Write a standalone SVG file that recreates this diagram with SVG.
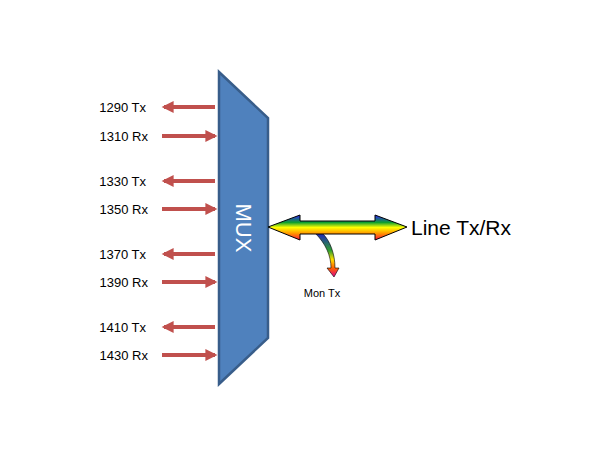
<svg xmlns="http://www.w3.org/2000/svg" width="610" height="450" viewBox="0 0 610 450">
<style>
.lbl{font-family:"Liberation Sans",Arial,sans-serif;font-size:13px;fill:#000}
.red{stroke:#c0504d;stroke-width:4;fill:none}
</style>
<defs>
<marker id="ah" viewBox="0 0 10 10" refX="8" refY="5" markerWidth="3.2" markerHeight="3" orient="auto" markerUnits="strokeWidth"><path d="M0,0L10,5L0,10z" fill="#c0504d"/></marker>
<linearGradient id="rb" x1="0" y1="0" x2="0" y2="1">
<stop offset="0" stop-color="#3020ff"/><stop offset="0.3" stop-color="#10a030"/><stop offset="0.5" stop-color="#ffff00"/><stop offset="0.75" stop-color="#ff9000"/><stop offset="1" stop-color="#ff1040"/>
</linearGradient>
<linearGradient id="rb2" x1="0" y1="0" x2="0" y2="1">
<stop offset="0" stop-color="#2020c0"/><stop offset="0.4" stop-color="#30a030"/><stop offset="0.6" stop-color="#ffe000"/><stop offset="0.8" stop-color="#ff6000"/><stop offset="1" stop-color="#e00090"/>
</linearGradient>
</defs>
<g id="mux">
<polygon points="219,72 268,118 268,338 219,384" fill="#4f81bd" stroke="#385d8a" stroke-width="2.5"/>
<text x="243" y="228" transform="rotate(90 243 228)" text-anchor="middle" dominant-baseline="central" font-family="Liberation Sans,Arial,sans-serif" font-size="22" fill="#fff">MUX</text>
</g>
<g id="connectors">
<line class="red" x1="215" y1="107" x2="164" y2="107" marker-end="url(#ah)"/>
<line class="red" x1="162" y1="136" x2="215" y2="136" marker-end="url(#ah)"/>
<line class="red" x1="215" y1="181" x2="164" y2="181" marker-end="url(#ah)"/>
<line class="red" x1="162" y1="209" x2="215" y2="209" marker-end="url(#ah)"/>
<line class="red" x1="215" y1="254" x2="164" y2="254" marker-end="url(#ah)"/>
<line class="red" x1="162" y1="282" x2="215" y2="282" marker-end="url(#ah)"/>
<line class="red" x1="215" y1="327" x2="164" y2="327" marker-end="url(#ah)"/>
<line class="red" x1="162" y1="355" x2="215" y2="355" marker-end="url(#ah)"/>
</g>
<g id="line">
<path d="M315,233 C326,244 331,256 331,268 L327,268 L334,277 L339,268 L335,268 C335,254 330,240 322,233 Z" fill="url(#rb2)" stroke="#000" stroke-width="0.6"/>
<path d="M268,227 L300,215 L300,221 L375,221 L375,215 L407,227 L375,240 L375,234 L300,234 L300,240 Z" fill="url(#rb)" stroke="#000" stroke-width="1"/>
<text x="411" y="235" font-family="Liberation Sans,Arial,sans-serif" font-size="21">Line Tx/Rx</text>
</g>
<g id="mon"><text x="322" y="297" text-anchor="middle" font-family="Liberation Sans,Arial,sans-serif" font-size="11">Mon Tx</text></g>
<g id="labels">
<text class="lbl" x="146" y="112" text-anchor="end">1290 Tx</text>
<text class="lbl" x="148" y="141" text-anchor="end">1310 Rx</text>
<text class="lbl" x="146" y="186" text-anchor="end">1330 Tx</text>
<text class="lbl" x="148" y="214" text-anchor="end">1350 Rx</text>
<text class="lbl" x="146" y="259" text-anchor="end">1370 Tx</text>
<text class="lbl" x="148" y="287" text-anchor="end">1390 Rx</text>
<text class="lbl" x="146" y="332" text-anchor="end">1410 Tx</text>
<text class="lbl" x="148" y="360" text-anchor="end">1430 Rx</text>
</g>
</svg>
